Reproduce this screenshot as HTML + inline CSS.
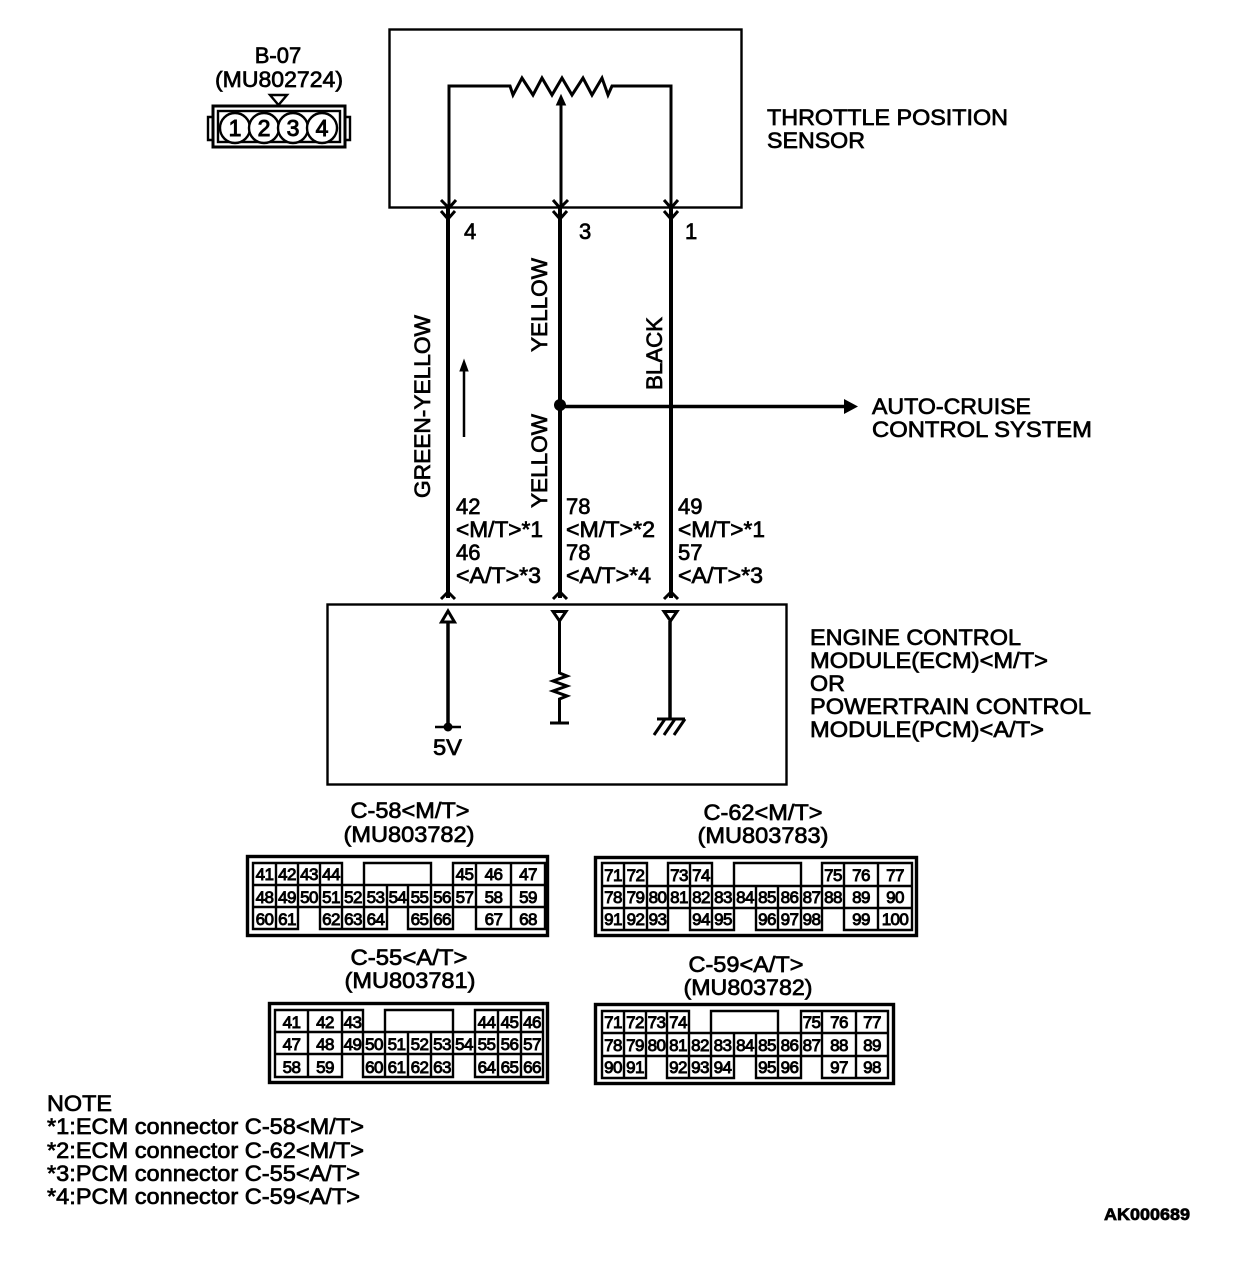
<!DOCTYPE html>
<html lang="en">
<head>
<meta charset="utf-8">
<title>Throttle Position Sensor Circuit</title>
<style>
html,body{margin:0;padding:0;background:#fff}
svg{display:block}
text{font-family:"Liberation Sans",Arial,sans-serif;fill:#000;stroke:#000;stroke-width:.7}
.t{font-size:22px}
.m{text-anchor:middle}
.n text{font-size:17px;text-anchor:middle;stroke-width:.9;letter-spacing:-.6px}
.g{fill:none;stroke:#000;stroke-width:2.400}
.o{fill:none;stroke:#000;stroke-width:3.400}
.l{fill:none;stroke:#000;stroke-width:3}
</style>
</head>
<body>
<svg width="1248" height="1276" viewBox="0 0 1248 1276" xmlns="http://www.w3.org/2000/svg">
<rect width="1248" height="1276" fill="#fff"/>

<!-- B-07 connector -->
<text class="t m" x="278" y="63">B-07</text>
<text class="t m" x="279" y="87" textLength="128" lengthAdjust="spacingAndGlyphs">(MU802724)</text>
<path d="M270 95H287L278.500 105Z" class="g"/>
<rect x="213" y="106" width="132" height="41" class="l"/>
<rect x="218" y="111" width="122" height="31" class="g"/>
<path d="M213 117H208V140H213M345 117H350V140H345" class="g"/>
<g fill="#fff" stroke="#000" stroke-width="2.400">
<circle cx="235" cy="128" r="15"/><circle cx="264" cy="128" r="15"/><circle cx="293" cy="128" r="15"/><circle cx="322" cy="128" r="15"/>
</g>
<text class="m" x="235" y="136" style="font-size:23px;stroke-width:1">1</text>
<text class="m" x="264" y="136" style="font-size:23px;stroke-width:1">2</text>
<text class="m" x="293" y="136" style="font-size:23px;stroke-width:1">3</text>
<text class="m" x="322" y="136" style="font-size:23px;stroke-width:1">4</text>

<!-- Sensor -->
<rect x="389.500" y="29.500" width="352" height="178" class="g"/>
<path d="M449 207V86H510L513 95L522 78L533 95L542 78L552 95L562 78L572 95L583 78L592 95L602 78L608 95L612 86H671V207" class="l"/>
<path d="M561 207V100" class="l"/>
<path d="M561 95L556.500 105H565.500Z" fill="#000" stroke="#000"/>
<text class="t" x="767" y="125" textLength="241" lengthAdjust="spacingAndGlyphs">THROTTLE POSITION</text>
<text class="t" x="767" y="148" textLength="98" lengthAdjust="spacingAndGlyphs">SENSOR</text>

<!-- Wires -->
<path d="M448 207V598M560 207V598M671 207V598" fill="none" stroke="#000" stroke-width="4"/>
<path d="M441 200L449 208L456 200M441 211L448 219L455 211M553 200L560 208L568 200M553 211L560 219L567 211M664 200L671 208L678 200M664 211L671 219L678 211" fill="none" stroke="#000" stroke-width="3"/>
<text class="t" x="464" y="239">4</text>
<text class="t" x="579" y="239">3</text>
<text class="t" x="685" y="239">1</text>

<text class="t" transform="translate(430,498) rotate(-90)" textLength="183" lengthAdjust="spacingAndGlyphs">GREEN-YELLOW</text>
<text class="t" transform="translate(547,352) rotate(-90)" textLength="94" lengthAdjust="spacingAndGlyphs">YELLOW</text>
<text class="t" transform="translate(547,508) rotate(-90)" textLength="94" lengthAdjust="spacingAndGlyphs">YELLOW</text>
<text class="t" transform="translate(662,390) rotate(-90)" textLength="73" lengthAdjust="spacingAndGlyphs">BLACK</text>

<path d="M464 437V368" stroke="#000" stroke-width="2.500" fill="none"/>
<path d="M464 360L460 371H468Z" fill="#000" stroke="#000"/>

<circle cx="560" cy="405" r="6" fill="#000"/>
<path d="M560 406.500H846" stroke="#000" stroke-width="3.500" fill="none"/>
<path d="M858 406.500L844 399V414Z" fill="#000"/>
<text class="t" x="872" y="414" textLength="159" lengthAdjust="spacingAndGlyphs">AUTO-CRUISE</text>
<text class="t" x="872" y="437" textLength="220" lengthAdjust="spacingAndGlyphs">CONTROL SYSTEM</text>

<text class="t" x="456" y="514">42</text>
<text class="t" x="456" y="537" textLength="87" lengthAdjust="spacingAndGlyphs">&lt;M/T&gt;*1</text>
<text class="t" x="456" y="560">46</text>
<text class="t" x="456" y="583" textLength="85" lengthAdjust="spacingAndGlyphs">&lt;A/T&gt;*3</text>
<text class="t" x="566" y="514">78</text>
<text class="t" x="566" y="537" textLength="89" lengthAdjust="spacingAndGlyphs">&lt;M/T&gt;*2</text>
<text class="t" x="566" y="560">78</text>
<text class="t" x="566" y="583" textLength="85" lengthAdjust="spacingAndGlyphs">&lt;A/T&gt;*4</text>
<text class="t" x="678" y="514">49</text>
<text class="t" x="678" y="537" textLength="87" lengthAdjust="spacingAndGlyphs">&lt;M/T&gt;*1</text>
<text class="t" x="678" y="560">57</text>
<text class="t" x="678" y="583" textLength="85" lengthAdjust="spacingAndGlyphs">&lt;A/T&gt;*3</text>

<!-- ECM -->
<path d="M441 599L448 592L455 599M553 599L560 592L567 599M664 599L671 592L678 599" fill="none" stroke="#000" stroke-width="3"/>
<rect x="327.500" y="604.500" width="459" height="180" class="g"/>
<path d="M448 611L441.500 622H454.500Z" class="l"/>
<path d="M448 621V726" stroke="#000" stroke-width="3.500" fill="none"/>
<circle cx="448" cy="727" r="4.500" fill="#000"/>
<path d="M435 727H461" stroke="#000" stroke-width="2.500" fill="none"/>
<text class="t" x="433" y="755" textLength="29" lengthAdjust="spacingAndGlyphs">5V</text>

<path d="M553 611.500H566L559.500 621Z" class="l"/>
<path d="M559.500 621V673L567 676L553 681L567 686L553 691L567 696L559.500 699V723M550 723H569" class="l"/>

<path d="M664 611.500H677L670.500 621Z" class="l"/>
<path d="M670 621V718" stroke="#000" stroke-width="3.500" fill="none"/>
<path d="M657 719H685M665 719L654 735M675 719L664 735M685 719L674 735" class="l"/>

<text class="t" x="810" y="645" textLength="211" lengthAdjust="spacingAndGlyphs">ENGINE CONTROL</text>
<text class="t" x="810" y="668" textLength="238" lengthAdjust="spacingAndGlyphs">MODULE(ECM)&lt;M/T&gt;</text>
<text class="t" x="810" y="691" textLength="35" lengthAdjust="spacingAndGlyphs">OR</text>
<text class="t" x="810" y="714" textLength="281" lengthAdjust="spacingAndGlyphs">POWERTRAIN CONTROL</text>
<text class="t" x="810" y="737" textLength="234" lengthAdjust="spacingAndGlyphs">MODULE(PCM)&lt;A/T&gt;</text>

<!-- Connector labels -->
<text class="t m" x="410" y="818" textLength="119" lengthAdjust="spacingAndGlyphs">C-58&lt;M/T&gt;</text>
<text class="t m" x="409" y="842" textLength="131" lengthAdjust="spacingAndGlyphs">(MU803782)</text>
<text class="t m" x="763" y="820" textLength="119" lengthAdjust="spacingAndGlyphs">C-62&lt;M/T&gt;</text>
<text class="t m" x="763" y="843" textLength="131" lengthAdjust="spacingAndGlyphs">(MU803783)</text>
<text class="t m" x="409" y="965" textLength="117" lengthAdjust="spacingAndGlyphs">C-55&lt;A/T&gt;</text>
<text class="t m" x="410" y="988" textLength="131" lengthAdjust="spacingAndGlyphs">(MU803781)</text>
<text class="t m" x="746" y="972" textLength="115" lengthAdjust="spacingAndGlyphs">C-59&lt;A/T&gt;</text>
<text class="t m" x="748" y="995" textLength="129" lengthAdjust="spacingAndGlyphs">(MU803782)</text>

<!-- C-58 -->
<rect x="247.500" y="856.500" width="300" height="79" class="o"/>
<path class="g" d="M253 863H342V885H253ZM276 863V885M298 863V885M320 863V885M364 863H431V885H364ZM453 863H545V885H453ZM476 863V885M511 863V885
M253 885H545V907H253ZM276 885V907M298 885V907M320 885V907M342 885V907M364 885V907M387 885V907M408 885V907M431 885V907M453 885V907M476 885V907M511 885V907
M253 907H298V929H253ZM276 907V929M320 907H387V929H320ZM342 907V929M364 907V929M408 907H453V929H408ZM431 907V929M476 907H545V929H476ZM511 907V929"/>
<g class="n">
<text x="264.500" y="880">41</text><text x="287" y="880">42</text><text x="309" y="880">43</text><text x="331" y="880">44</text><text x="464.500" y="880">45</text><text x="493.500" y="880">46</text><text x="528" y="880">47</text>
<text x="264.500" y="903">48</text><text x="287" y="903">49</text><text x="309" y="903">50</text><text x="331" y="903">51</text><text x="353" y="903">52</text><text x="375.500" y="903">53</text><text x="397.500" y="903">54</text><text x="419.500" y="903">55</text><text x="442" y="903">56</text><text x="464.500" y="903">57</text><text x="493.500" y="903">58</text><text x="528" y="903">59</text>
<text x="264.500" y="925">60</text><text x="287" y="925">61</text><text x="331" y="925">62</text><text x="353" y="925">63</text><text x="375.500" y="925">64</text><text x="419.500" y="925">65</text><text x="442" y="925">66</text><text x="493.500" y="925">67</text><text x="528" y="925">68</text>
</g>

<!-- C-62 -->
<rect x="595.500" y="857.500" width="321" height="78" class="o"/>
<path class="g" d="M602 863H647V886H602ZM624 863V886M668 863H712V886H668ZM690 863V886M734 863H801V886H734ZM822 863H912V886H822ZM844 863V886M878 863V886
M602 886H912V908H602ZM624 886V908M647 886V908M668 886V908M690 886V908M712 886V908M734 886V908M756 886V908M778 886V908M801 886V908M822 886V908M844 886V908M878 886V908
M602 908H668V930H602ZM624 908V930M647 908V930M690 908H734V930H690ZM712 908V930M756 908H822V930H756ZM778 908V930M801 908V930M844 908H912V930H844ZM878 908V930"/>
<g class="n">
<text x="613" y="881">71</text><text x="635.500" y="881">72</text><text x="679" y="881">73</text><text x="701" y="881">74</text><text x="833" y="881">75</text><text x="861" y="881">76</text><text x="895" y="881">77</text>
<text x="613" y="903">78</text><text x="635.500" y="903">79</text><text x="657.500" y="903">80</text><text x="679" y="903">81</text><text x="701" y="903">82</text><text x="723" y="903">83</text><text x="745" y="903">84</text><text x="767" y="903">85</text><text x="789.500" y="903">86</text><text x="811.500" y="903">87</text><text x="833" y="903">88</text><text x="861" y="903">89</text><text x="895" y="903">90</text>
<text x="613" y="925">91</text><text x="635.500" y="925">92</text><text x="657.500" y="925">93</text><text x="701" y="925">94</text><text x="723" y="925">95</text><text x="767" y="925">96</text><text x="789.500" y="925">97</text><text x="811.500" y="925">98</text><text x="861" y="925">99</text><text x="895" y="925">100</text>
</g>

<!-- C-55 -->
<rect x="269.500" y="1003.500" width="278" height="79" class="o"/>
<path class="g" d="M275 1010H363V1032H275ZM308 1010V1032M342 1010V1032M385 1010H453V1032H385ZM475 1010H543V1032H475ZM498 1010V1032M521 1010V1032
M275 1032H543V1054H275ZM308 1032V1054M342 1032V1054M363 1032V1054M385 1032V1054M408 1032V1054M431 1032V1054M453 1032V1054M475 1032V1054M498 1032V1054M521 1032V1054
M275 1054H342V1077H275ZM308 1054V1077M363 1054H453V1077H363ZM385 1054V1077M408 1054V1077M431 1054V1077M475 1054H543V1077H475ZM498 1054V1077M521 1054V1077"/>
<g class="n">
<text x="291.500" y="1028">41</text><text x="325" y="1028">42</text><text x="352.500" y="1028">43</text><text x="486.500" y="1028">44</text><text x="509.500" y="1028">45</text><text x="532" y="1028">46</text>
<text x="291.500" y="1050">47</text><text x="325" y="1050">48</text><text x="352.500" y="1050">49</text><text x="374" y="1050">50</text><text x="396.500" y="1050">51</text><text x="419.500" y="1050">52</text><text x="442" y="1050">53</text><text x="464" y="1050">54</text><text x="486.500" y="1050">55</text><text x="509.500" y="1050">56</text><text x="532" y="1050">57</text>
<text x="291.500" y="1073">58</text><text x="325" y="1073">59</text><text x="374" y="1073">60</text><text x="396.500" y="1073">61</text><text x="419.500" y="1073">62</text><text x="442" y="1073">63</text><text x="486.500" y="1073">64</text><text x="509.500" y="1073">65</text><text x="532" y="1073">66</text>
</g>

<!-- C-59 -->
<rect x="595.500" y="1004.500" width="298" height="79" class="o"/>
<path class="g" d="M602 1011H689V1033H602ZM624 1011V1033M646 1011V1033M667 1011V1033M711 1011H778V1033H711ZM801 1011H888V1033H801ZM822 1011V1033M856 1011V1033
M602 1033H888V1056H602ZM624 1033V1056M646 1033V1056M667 1033V1056M689 1033V1056M711 1033V1056M734 1033V1056M756 1033V1056M778 1033V1056M801 1033V1056M822 1033V1056M856 1033V1056
M602 1056H646V1078H602ZM624 1056V1078M667 1056H734V1078H667ZM689 1056V1078M711 1056V1078M756 1056H801V1078H756ZM778 1056V1078M822 1056H888V1078H822ZM856 1056V1078"/>
<g class="n">
<text x="613" y="1028">71</text><text x="635" y="1028">72</text><text x="656.500" y="1028">73</text><text x="678" y="1028">74</text><text x="811.500" y="1028">75</text><text x="839" y="1028">76</text><text x="872" y="1028">77</text>
<text x="613" y="1051">78</text><text x="635" y="1051">79</text><text x="656.500" y="1051">80</text><text x="678" y="1051">81</text><text x="700" y="1051">82</text><text x="722.500" y="1051">83</text><text x="745" y="1051">84</text><text x="767" y="1051">85</text><text x="789.500" y="1051">86</text><text x="811.500" y="1051">87</text><text x="839" y="1051">88</text><text x="872" y="1051">89</text>
<text x="613" y="1073">90</text><text x="635" y="1073">91</text><text x="678" y="1073">92</text><text x="700" y="1073">93</text><text x="722.500" y="1073">94</text><text x="767" y="1073">95</text><text x="789.500" y="1073">96</text><text x="839" y="1073">97</text><text x="872" y="1073">98</text>
</g>

<!-- Notes -->
<text class="t" x="47" y="1111" textLength="65" lengthAdjust="spacingAndGlyphs">NOTE</text>
<text class="t" x="47" y="1134" textLength="317" lengthAdjust="spacingAndGlyphs">*1:ECM connector C-58&lt;M/T&gt;</text>
<text class="t" x="47" y="1158" textLength="317" lengthAdjust="spacingAndGlyphs">*2:ECM connector C-62&lt;M/T&gt;</text>
<text class="t" x="47" y="1181" textLength="313" lengthAdjust="spacingAndGlyphs">*3:PCM connector C-55&lt;A/T&gt;</text>
<text class="t" x="47" y="1204" textLength="313" lengthAdjust="spacingAndGlyphs">*4:PCM connector C-59&lt;A/T&gt;</text>

<text x="1104" y="1220" font-size="17" font-weight="bold" textLength="86" lengthAdjust="spacingAndGlyphs">AK000689</text>
</svg>
</body>
</html>
